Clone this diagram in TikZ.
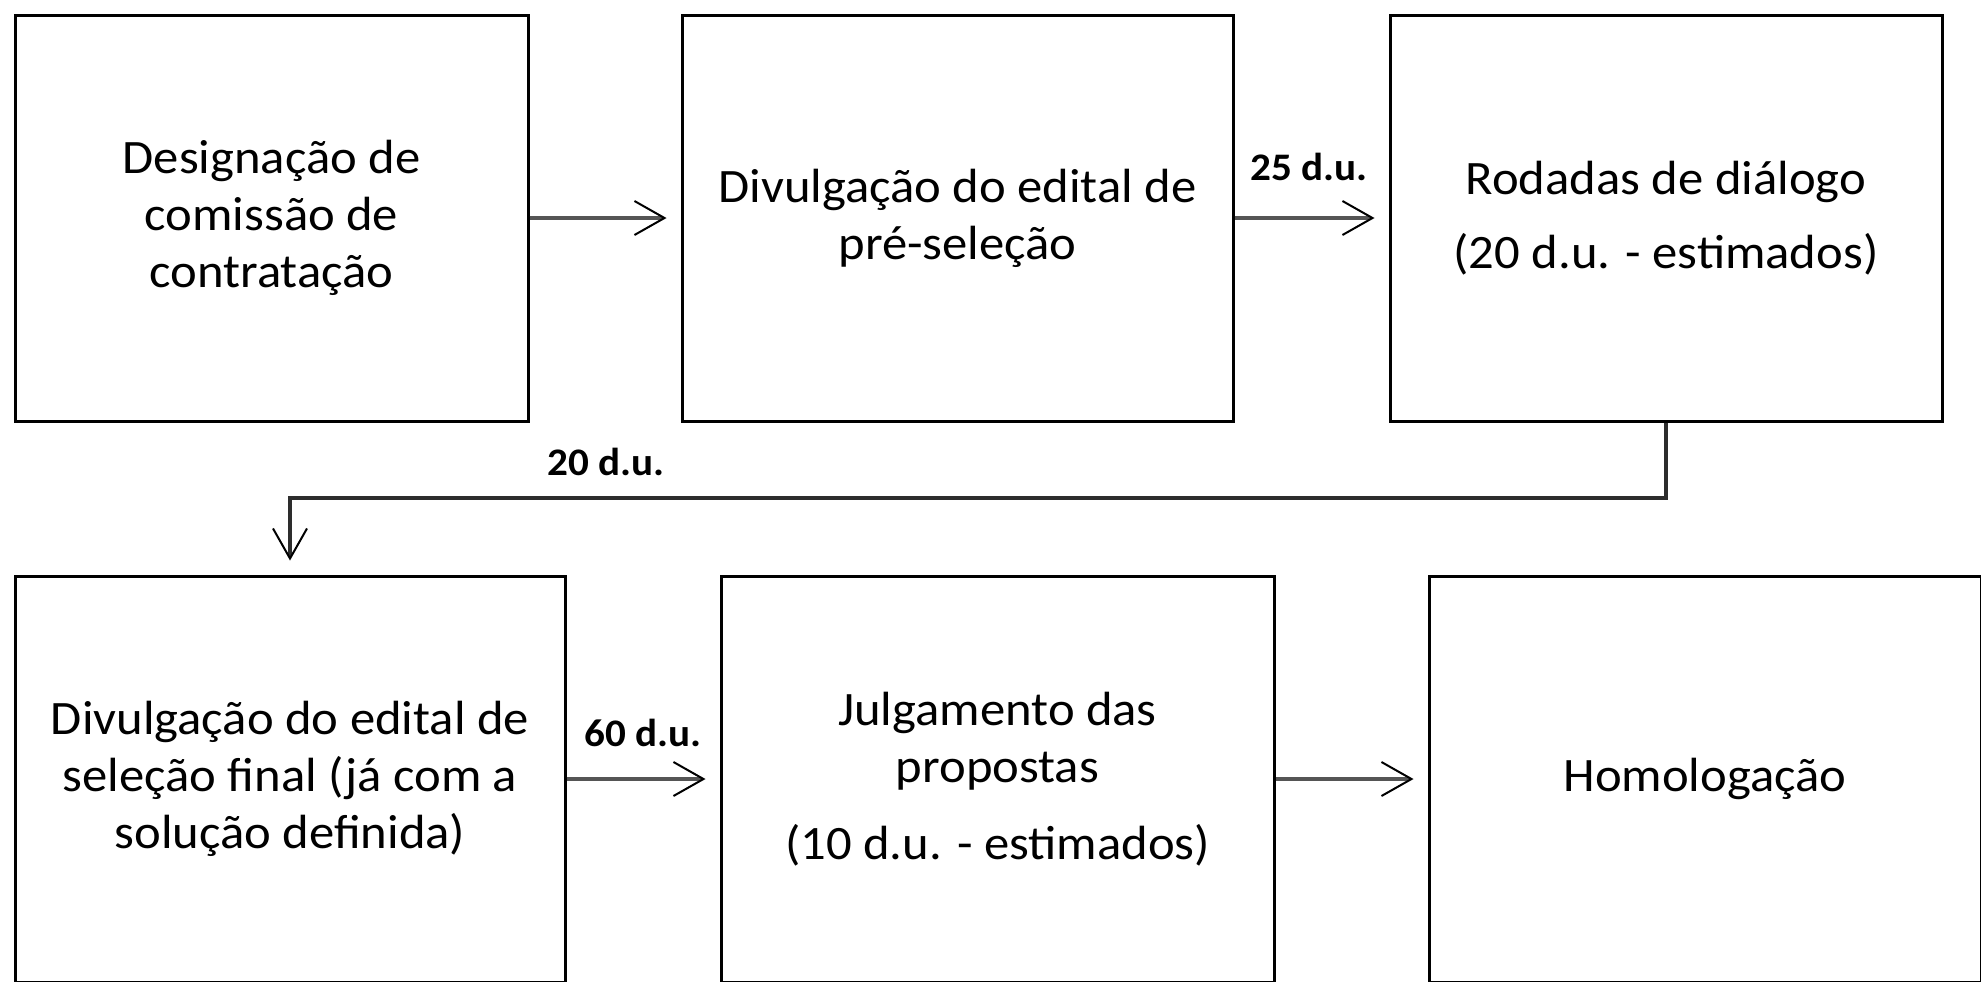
\documentclass[tikz,border=0pt]{standalone}
\usepackage{fontspec}
\setmainfont{Carlito}[FakeStretch=1.055]
\usetikzlibrary{arrows.meta}
\definecolor{arrgray}{RGB}{85,85,85}
\definecolor{elbowgray}{RGB}{45,45,45}
\begin{document}
\begin{tikzpicture}[x=0.5pt,y=-0.5pt,
  box/.style={draw=black, line width=1.5pt, minimum height=203pt, inner sep=0pt,
    align=center, text=black, font=\fontsize{24}{28.5}\selectfont},
  arr/.style={draw=arrgray, line width=1.8pt,
    -{Straight Barb[length=15pt,width=17pt,line width=1pt,color=black]}, shorten >=7pt},
  elbow/.style={arr, draw=elbowgray},
  lbl/.style={font=\bfseries\fontsize{19.5}{22}\selectfont, text=black, inner sep=0pt}]
\useasboundingbox (0,0) rectangle (1981,981);
\fill[white] (0,0) rectangle (1981,981);
\begin{scope}
\clip (0,0) rectangle (1981,981);
\node[box, minimum width=256.5pt] (b1) at (271.5,218) {Designação de\\comissão de\\contratação};
\node[box, minimum width=275.5pt] (b2) at (957.5,218) {Divulgação do edital de\\pré-seleção};
\node[box, minimum width=276pt] (b3) at (1666,218) {Rodadas de diálogo\\[8.5pt](20 d.u. - estimados)};
\node[box, minimum width=275pt] (b4) at (290,779) {Divulgação do edital de\\seleção final (já com a\\solução definida)};
\node[box, minimum width=276.5pt] (b5) at (997.5,779) {Julgamento das\\propostas\\[10pt](10 d.u. - estimados)};
\node[box, minimum width=276pt] (b6) at (1705,779) {Homologação};
\end{scope}
\coordinate (turn) at (0,498);
\draw[arr] (b1) -- (b2);
\draw[arr] (b2) -- (b3);
\draw[elbow] (b3.south) -- (b3.south |- turn) -| (b4.north);
\draw[arr] (b4) -- (b5);
\draw[arr] (b5) -- (b6);
\node[lbl] (l25) at (1309,167) {25 d.u.};
\node[lbl] (l20) at (606,462) {20 d.u.};
\node[lbl] (l60) at (643,733) {60 d.u.};
\end{tikzpicture}
\end{document}
